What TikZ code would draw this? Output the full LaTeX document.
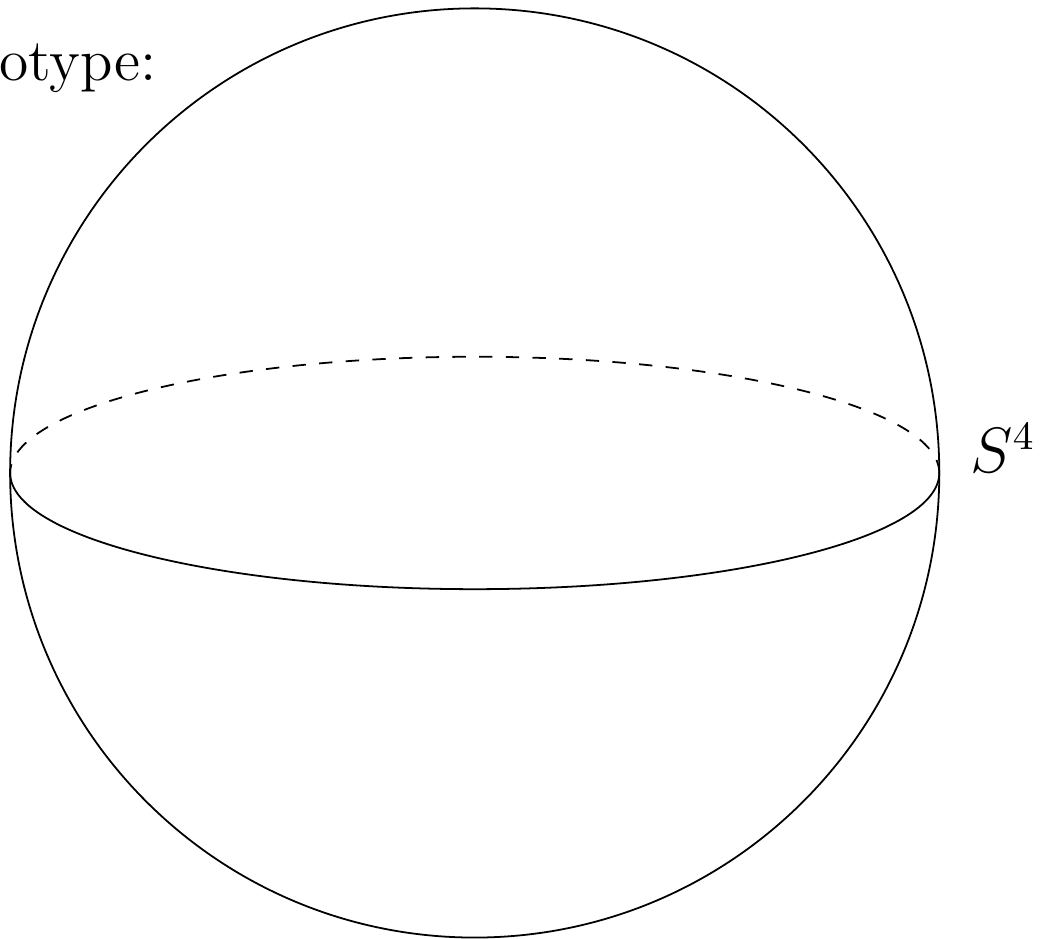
\documentclass[tikz,border=0pt]{standalone}
\usepackage{tikz}
\usetikzlibrary{positioning}
\tikzset{
  shell/.style={draw=black,line width=0.4pt},
  eqback/.style={draw=black,line width=0.4pt,dashed},
  eqfront/.style={draw=black,line width=0.4pt},
  lbl/.style={font=\fontsize{13.4}{16}\selectfont,inner sep=0pt},
}

\begin{document}
\begin{tikzpicture}
  \useasboundingbox (-3.750,-3.681) rectangle (4.489,3.736);
  \coordinate (o) at (0,0);
  \coordinate (e) at (3.67,0);
  \coordinate (w) at (-3.67,0);
  % sphere and its equator
  \draw[shell] (o) circle (3.67cm);
  \draw[eqback] (e) arc (0:180:3.67cm and 0.918cm);
  \draw[eqfront] (w) arc (180:360:3.67cm and 0.918cm);
  \node[lbl,anchor=base east] (title) at (-2.506,3.104) {Prototype:};
  \node[lbl,anchor=base west] (sname) at (3.91,0) {$S^4$};
\end{tikzpicture}
\end{document}
